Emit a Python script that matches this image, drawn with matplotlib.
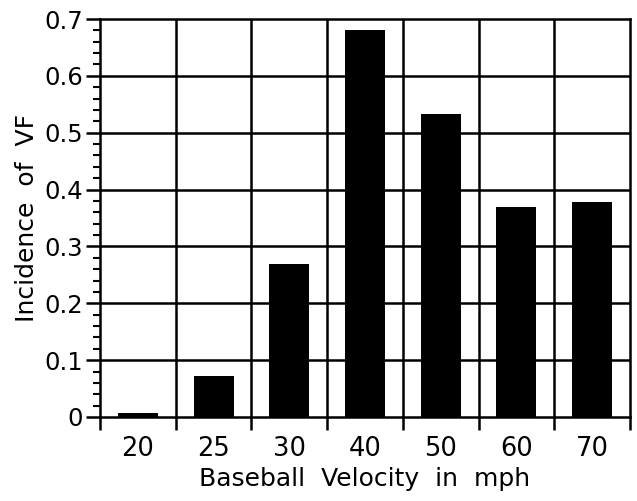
import matplotlib
matplotlib.use("Agg")
import matplotlib.pyplot as plt
import numpy as np
from matplotlib.ticker import MultipleLocator, FixedLocator

categories = ["20", "25", "30", "40", "50", "60", "70"]
values = [0.007, 0.072, 0.269, 0.680, 0.533, 0.369, 0.378]

plt.rcParams['font.family'] = ['DejaVu Sans']

fig = plt.figure(figsize=(6.37, 5.01), dpi=100)
ax = fig.add_axes([100/637, 84/501, 530/637, 398/501])

x = np.arange(len(categories))
ax.bar(x, values, width=0.53, color='black', zorder=3)

ax.set_xlim(-0.5, len(categories) - 0.5)
ax.set_ylim(0, 0.7)

ax.set_xticks(x)
ax.set_xticklabels(categories, fontsize=18.5)
ax.tick_params(axis='x', which='major', length=0, pad=14)
ax.xaxis.set_minor_locator(FixedLocator(np.arange(-0.5, len(categories), 1.0)))
ax.tick_params(axis='x', which='minor', length=9, width=1.8, direction='out', color='black')

ax.yaxis.set_minor_locator(MultipleLocator(0.02))
ax.set_yticks(np.arange(0, 0.71, 0.1))
ax.set_yticklabels(["0", "0.1", "0.2", "0.3", "0.4", "0.5", "0.6", "0.7"], fontsize=17.5)
ax.tick_params(axis='y', which='major', length=10, width=1.8, direction='out', pad=2)
ax.tick_params(axis='y', which='minor', length=5, width=1.5, direction='out')

for b in np.arange(0.5, len(categories) - 1, 1.0):
    ax.axvline(b, color='black', lw=1.8, zorder=1)
for yv in np.arange(0.1, 0.65, 0.1):
    ax.axhline(yv, color='black', lw=1.8, zorder=1)

for s in ax.spines.values():
    s.set_linewidth(1.8)

ax.set_xlabel("Baseball  Velocity  in  mph", fontsize=18, labelpad=3)
ax.set_ylabel("Incidence  of  VF", fontsize=18, labelpad=4)

fig.savefig("out.png", dpi=100)
